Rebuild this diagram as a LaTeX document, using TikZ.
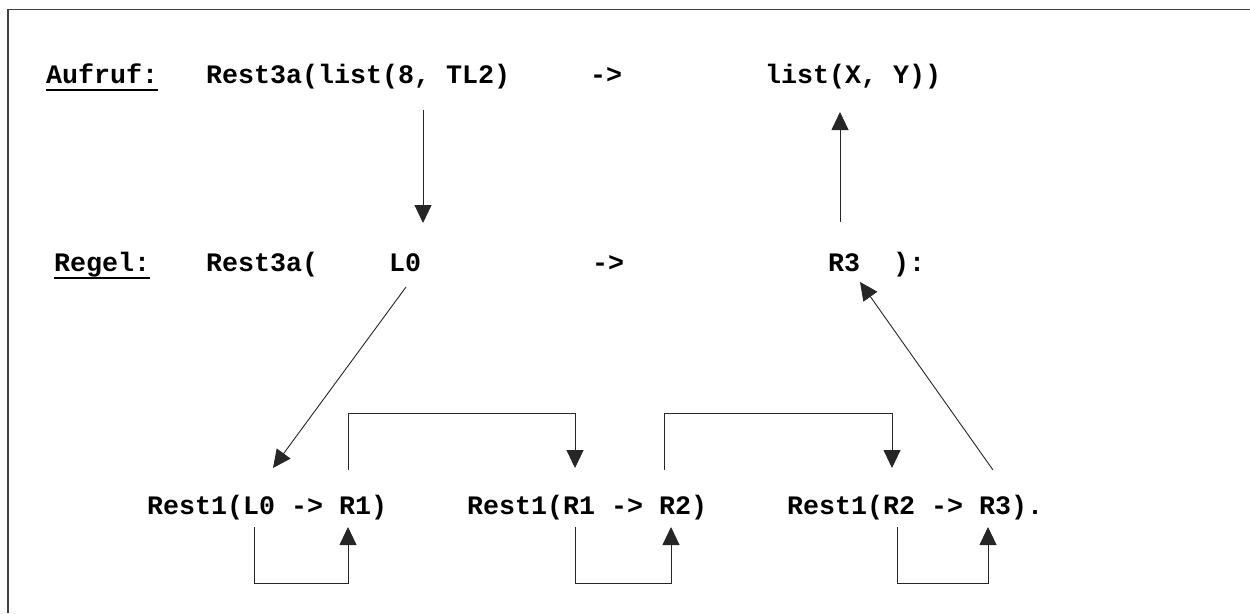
\documentclass[tikz,border=0pt]{standalone}
\usepackage{fontspec}
\newfontfamily\cour{Liberation Mono}
\usetikzlibrary{arrows.meta}
\begin{document}
\begin{tikzpicture}[x=1pt,y=-1pt,
  txt/.style={anchor=base west, inner sep=0pt, font=\cour\bfseries\fontsize{26.67}{30}\selectfont},
  conn/.style={line width=0.9pt, draw=black!85, -{Triangle[length=18pt,width=17pt]}},
  uline/.style={line width=1.6pt, draw=black},
  frame/.style={line width=1.4pt, draw=black!75}]
\useasboundingbox (0,0) rectangle (1250,613);
\draw[frame] (8,613) -- (8,9.5) -- (1250,9.5);
% row 1
\node[txt] (aufruf) at (46,83) {Aufruf:};
\node[txt] (call) at (206,83) {Rest3a(list(8, TL2)};
\node[txt] (arrA) at (590,83) {->};
\node[txt] (res) at (765,83) {list(X, Y))};
% row 2
\node[txt] (regel) at (54,271) {Regel:};
\node[txt] (rule) at (206,271) {Rest3a(};
\node[txt] (lzero) at (389,271) {L0};
\node[txt] (arrB) at (592,271) {->};
\node[txt] (rthree) at (828,271) {R3};
\node[txt] (close) at (893,271) {):};
% row 3
\node[txt] (ra) at (147,514) {Rest1(L0 -> R1)};
\node[txt] (rb) at (467,514) {Rest1(R1 -> R2)};
\node[txt] (rc) at (787,514) {Rest1(R2 -> R3).};
% underlines
\draw[uline] ([yshift=-7pt]aufruf.base west) -- ([yshift=-7pt]aufruf.base east);
\draw[uline] ([yshift=-7pt]regel.base west) -- ([yshift=-7pt]regel.base east);
% coordinates
\coordinate (d1s) at (423,110);
\coordinate (d1e) at (423,223);
\coordinate (u1s) at (840,222);
\coordinate (u1e) at (840,112);
\coordinate (g1s) at (406,287);
\coordinate (g1e) at (273,468);
\coordinate (g2s) at (993,470);
\coordinate (g2e) at (860,282);
% vertical arrows between rows 1 and 2
\draw[conn] (d1s) -- (d1e);
\draw[conn] (u1s) -- (u1e);
% diagonals
\draw[conn] (g1s) -- (g1e);
\draw[conn] (g2s) -- (g2e);
% brackets above
\draw[conn] (348,470) -- (348,413) -- (575,413) -- (575,468);
\draw[conn] (664,470) -- (664,413) -- (892,413) -- (892,468);
% loops below
\draw[conn] (254,527) -- (254,583) -- (348,583) -- (348,527);
\draw[conn] (575,527) -- (575,583) -- (671,583) -- (671,527);
\draw[conn] (897,527) -- (897,583) -- (988,583) -- (988,527);
\end{tikzpicture}
\end{document}
